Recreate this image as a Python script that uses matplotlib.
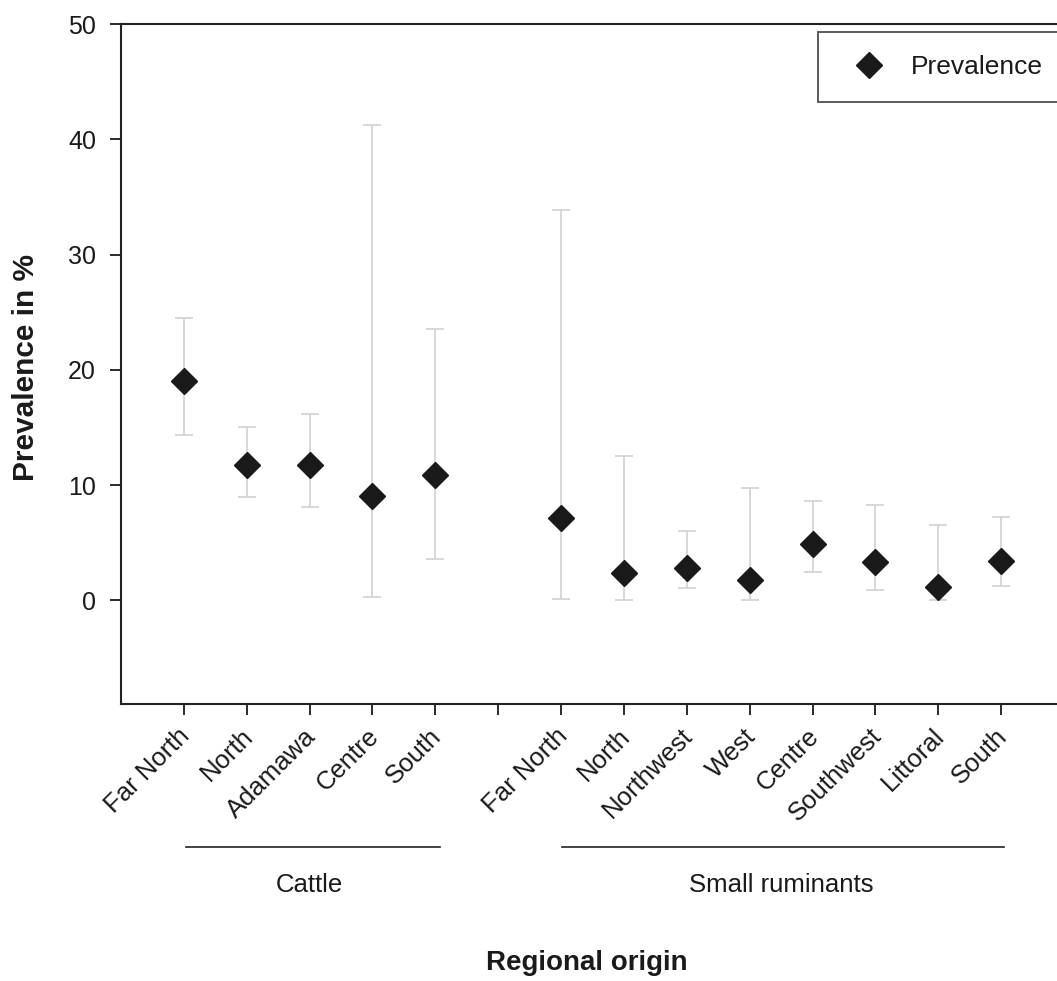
import matplotlib
matplotlib.use("Agg")
import matplotlib.pyplot as plt
import matplotlib.transforms as mtransforms
import numpy as np

plt.rcParams['font.family'] = ['Liberation Sans', 'DejaVu Sans']

# Data
cattle_regions = ["Far North", "North", "Adamawa", "Centre", "South"]
cattle_prev = [19.05, 11.7, 11.7, 9.05, 10.85]
cattle_low = [14.3, 8.95, 8.05, 0.25, 3.6]
cattle_high = [24.5, 15.0, 16.15, 41.2, 23.5]

sr_regions = ["Far North", "North", "Northwest", "West", "Centre",
              "Southwest", "Littoral", "South"]
sr_prev = [7.1, 2.35, 2.8, 1.8, 4.9, 3.3, 1.15, 3.4]
sr_low = [0.15, 0.05, 1.05, 0.03, 2.45, 0.9, 0.02, 1.25]
sr_high = [33.9, 12.5, 6.05, 9.7, 8.65, 8.25, 6.55, 7.25]

group_names = ["Cattle", "Small ruminants"]

# Positions: cattle 1..5, gap at 6, small ruminants 7..14
cattle_x = np.arange(1, len(cattle_regions) + 1)
sr_x = np.arange(len(cattle_regions) + 2, len(cattle_regions) + 2 + len(sr_regions))

x = np.concatenate([cattle_x, sr_x])
prev = np.array(cattle_prev + sr_prev)
low = np.array(cattle_low + sr_low)
high = np.array(cattle_high + sr_high)

W, H = 1057, 981
fig = plt.figure(figsize=(W / 100, H / 100), dpi=100)
ax_left = 121 / W
ax_right = 1064 / W
ax_bottom = (H - 704) / H
ax_top = (H - 24) / H
ax = fig.add_axes([ax_left, ax_bottom, ax_right - ax_left, ax_top - ax_bottom])

text_color = "#1a1a1a"

ax.errorbar(x, prev, yerr=[prev - low, high - prev], fmt='none',
            ecolor="#d4d4d4", elinewidth=1.3, capsize=6.8, capthick=1.3, zorder=2)
ax.plot(x, prev, linestyle='none', marker='D', markersize=13.5,
        color="#1a1a1a", label="Prevalence", zorder=3)

ax.set_xlim(0, 15)
ax.set_ylim(-9, 50)
ax.set_yticks([0, 10, 20, 30, 40, 50])

ticks = np.arange(1, 15)
labels = []
for t in ticks:
    if t in cattle_x:
        labels.append(cattle_regions[list(cattle_x).index(t)])
    elif t in sr_x:
        labels.append(sr_regions[list(sr_x).index(t)])
    else:
        labels.append("")
ax.set_xticks(ticks)
ax.set_xticklabels([])
lab_trans = ax.get_xaxis_transform() + mtransforms.ScaledTranslation(
    -6 / 100, -20 / 100, fig.dpi_scale_trans)
for t, lab in zip(ticks, labels):
    if lab:
        ax.text(t, 0, lab, transform=lab_trans, rotation=45, ha='right', va='top',
                rotation_mode='anchor', fontsize=18.5, color=text_color)

ax.tick_params(axis='y', labelsize=18, colors=text_color, length=8, width=1.3,
               direction='out', pad=10)
ax.tick_params(axis='x', length=8, width=1.3, direction='out', colors=text_color, pad=5)

for side in ['left', 'bottom', 'top']:
    ax.spines[side].set_linewidth(1.5)
    ax.spines[side].set_color("#222222")
ax.spines['right'].set_visible(False)

fig.text(26 / W, 1 - 368 / H, "Prevalence in %", rotation=90, ha='center', va='center',
         fontsize=21.5, fontweight='bold', color=text_color)

# Group lines and labels (in data x coords, axes y coords)
trans = ax.get_xaxis_transform()
span = 704 - 24
line_y = (704 - 847) / span
label_y = (704 - 885) / span
ax.plot([cattle_x[0] + 0.04, cattle_x[-1] + 0.08], [line_y, line_y], transform=trans,
        color="#222222", lw=1.2, clip_on=False)
ax.plot([sr_x[0] + 0.02, sr_x[-1] + 0.04], [line_y, line_y], transform=trans,
        color="#222222", lw=1.2, clip_on=False)
ax.text(cattle_x.mean(), label_y, group_names[0], transform=trans, ha='center', va='center',
        fontsize=18.5, color=text_color)
ax.text(sr_x.mean(), label_y, group_names[1], transform=trans, ha='center', va='center',
        fontsize=18.5, color=text_color)

fig.text(587 / W, 1 - 963 / H, "Regional origin",
         ha='center', va='center', fontsize=20, fontweight='bold', color=text_color)

leg = ax.legend(loc='upper left', bbox_to_anchor=(818 / W, 1 - 32 / H),
                bbox_transform=fig.transFigure, frameon=True, fancybox=False,
                fontsize=19, borderpad=0.88, handletextpad=0.55, borderaxespad=0,
                handlelength=2.1, markerscale=1.0)
leg.get_frame().set_edgecolor("#222222")
leg.get_frame().set_linewidth(1.3)
for t in leg.get_texts():
    t.set_color(text_color)

fig.savefig("out.png", dpi=100)
